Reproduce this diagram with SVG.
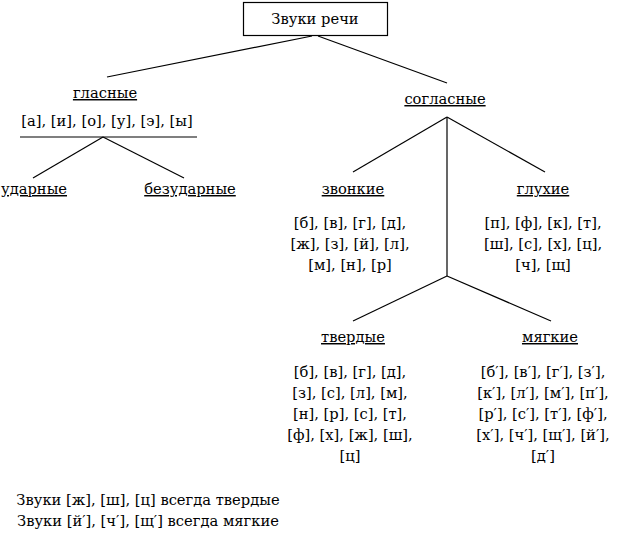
<svg xmlns="http://www.w3.org/2000/svg" width="617" height="533" viewBox="0 0 617 533">
<style>
text{font-family:"DejaVu Serif",serif;font-size:14.7px;fill:#000;text-anchor:middle}
.u{text-decoration:underline}
.l{stroke:#000;stroke-width:1.2;fill:none}
</style>
<rect width="617" height="533" fill="#fff"/>
<g id="connectors" class="l">
<line x1="312" y1="36" x2="107" y2="77"/>
<line x1="318" y1="36" x2="447" y2="83"/>
<line x1="20" y1="137" x2="197" y2="137"/>
<line x1="103" y1="137" x2="33" y2="178"/>
<line x1="103" y1="137" x2="184" y2="178"/>
<line x1="447" y1="117" x2="353" y2="172"/>
<line x1="447" y1="117" x2="545" y2="172"/>
<line x1="447" y1="117" x2="447" y2="276"/>
<line x1="447" y1="276" x2="353" y2="321"/>
<line x1="447" y1="276" x2="551" y2="321"/>
</g>
<g id="root">
<rect x="243.5" y="2.5" width="144" height="33" fill="#fff" stroke="#000" stroke-width="1.2"/>
<text x="315" y="24">Звуки речи</text>
</g>
<g id="vowels">
<text class="u" x="105" y="98">гласные</text>
<text x="107" y="126">[а], [и], [о], [у], [э], [ы]</text>
</g>
<g id="stressed"><text class="u" x="1" y="194" style="text-anchor:start">ударные</text></g>
<g id="unstressed"><text class="u" x="190" y="194">безударные</text></g>
<g id="consonants"><text class="u" x="445" y="104">согласные</text></g>
<g id="voiced">
<text class="u" x="353" y="194">звонкие</text>
<text x="350" y="228">[б], [в], [г], [д],</text>
<text x="350" y="249">[ж], [з], [й], [л],</text>
<text x="350" y="270">[м], [н], [р]</text>
</g>
<g id="voiceless">
<text class="u" x="543" y="194">глухие</text>
<text x="543" y="228">[п], [ф], [к], [т],</text>
<text x="543" y="249">[ш], [с], [х], [ц],</text>
<text x="543" y="270">[ч], [щ]</text>
</g>
<g id="hard">
<text class="u" x="353" y="342">твердые</text>
<text x="350" y="377">[б], [в], [г], [д],</text>
<text x="350" y="398">[з], [с], [л], [м],</text>
<text x="350" y="419">[н], [р], [с], [т],</text>
<text x="350" y="440">[ф], [х], [ж], [ш],</text>
<text x="350" y="461">[ц]</text>
</g>
<g id="soft">
<text class="u" x="550" y="342">мягкие</text>
<text x="543" y="377">[б′], [в′], [г′], [з′],</text>
<text x="543" y="398">[к′], [л′], [м′], [п′],</text>
<text x="543" y="419">[р′], [с′], [т′], [ф′],</text>
<text x="543" y="440">[х′], [ч′], [щ′], [й′],</text>
<text x="543" y="461">[д′]</text>
</g>
<g id="note">
<text x="148" y="505">Звуки [ж], [ш], [ц] всегда твердые</text>
<text x="148" y="526">Звуки [й′], [ч′], [щ′] всегда мягкие</text>
</g>
</svg>
